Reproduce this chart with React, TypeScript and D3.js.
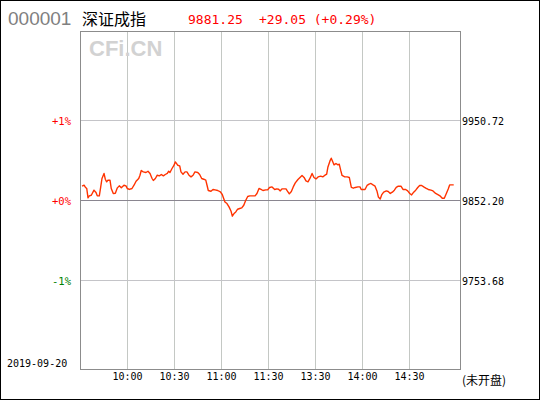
import React from "react";
import * as d3 from "d3";

// ---- data ----
const stockCode = "000001";
const stockName = "深证成指";
const lastPrice = "9881.25";
const changeText = "+29.05 (+0.29%)";
const tradeDate = "2019-09-20";
const statusText = "(未开盘)";
const watermark = "CFi.CN";
const prevClose = 9852.2;

const pctTicks = [1, 0, -1];
const pctTickLabels = ["+1%", "+0%", "-1%"];

const timeTicks = [30, 60, 90, 120, 150, 180, 210];
const timeTickLabels = ["10:00", "10:30", "11:00", "11:30", "13:30", "14:00", "14:30"];

// trading minutes since 09:30 (lunch break removed)
const minutes = [
  1.3, 2.6, 3.4, 4.3, 5.1, 5.9, 7.2, 8.9, 10.2, 11.0, 12.3, 13.2, 14.0, 15.3, 16.1, 17.0, 17.8, 19.1, 19.9, 21.2,
  22.5, 23.8, 25.0, 26.3, 28.0, 29.3, 30.1, 31.4, 33.1, 34.4, 35.7, 37.4, 38.2, 39.0, 40.3, 42.0, 43.3, 44.6, 45.9, 46.7,
  48.0, 49.2, 50.5, 51.8, 53.1, 54.3, 55.6, 56.5, 57.3, 58.6, 59.9, 60.7, 61.3, 62.2, 63.5, 64.3, 65.6, 66.9, 68.1, 69.4,
  70.7, 72.0, 73.2, 75.0, 76.2, 77.5, 78.8, 80.1, 80.9, 81.7, 83.4, 84.7, 86.0, 87.7, 89.4, 90.6, 91.5, 92.3, 93.6, 94.9,
  96.2, 97.0, 98.3, 99.2, 100.4, 101.7, 103.0, 104.3, 105.5, 106.8, 108.1, 109.7, 111.5, 112.7, 114.0, 115.3, 116.5, 118.3, 119.5, 120.7,
  122.3, 124.0, 125.3, 126.5, 127.4, 128.6, 129.9, 131.2, 132.0, 133.3, 134.6, 135.8, 137.1, 138.8, 140.1, 141.4, 142.7, 143.9, 145.2, 146.5,
  147.8, 149.0, 150.3, 151.6, 153.3, 154.6, 155.8, 157.1, 157.9, 159.2, 160.0, 160.9, 161.8, 163.0, 164.3, 165.1, 166.0, 166.9, 168.6, 170.2,
  171.5, 172.8, 174.1, 175.3, 177.0, 178.3, 179.1, 181.5, 182.8, 184.1, 185.3, 186.6, 187.9, 189.1, 190.0, 191.2, 192.1, 193.4, 195.1, 196.3,
  197.6, 198.9, 200.2, 201.4, 202.7, 204.4, 205.7, 207.4, 208.7, 210.0, 211.2, 212.5, 213.8, 215.1, 216.3, 217.6, 218.9, 220.2, 221.8, 223.5,
  224.8, 226.5, 228.2, 229.5, 230.7, 232.0, 233.3, 234.5, 235.4, 236.7, 238.0,
];

// change vs previous close, percent
const changePct = [
  0.179, 0.191, 0.166, 0.15, 0.033, 0.058, 0.066, 0.129, 0.1, 0.058, 0.058, 0.17, 0.275, 0.338, 0.266, 0.233, 0.254, 0.254, 0.15, 0.088,
  0.091, 0.158, 0.183, 0.158, 0.191, 0.183, 0.15, 0.138, 0.15, 0.191, 0.241, 0.275, 0.316, 0.375, 0.358, 0.35, 0.366, 0.338, 0.275, 0.25,
  0.275, 0.316, 0.308, 0.325, 0.308, 0.325, 0.338, 0.366, 0.35, 0.4, 0.441, 0.483, 0.466, 0.441, 0.433, 0.358, 0.329, 0.358, 0.358, 0.316,
  0.295, 0.316, 0.358, 0.35, 0.325, 0.275, 0.266, 0.254, 0.191, 0.125, 0.116, 0.138, 0.133, 0.125, 0.108, 0.075, 0.025, -0.018, -0.038, -0.08,
  -0.134, -0.196, -0.159, -0.143, -0.109, -0.1, -0.093, -0.059, 0.0, 0.05, 0.058, 0.058, 0.058, 0.088, 0.15, 0.138, 0.125, 0.133, 0.133, 0.163,
  0.17, 0.138, 0.145, 0.141, 0.12, 0.145, 0.145, 0.145, 0.12, 0.083, 0.113, 0.17, 0.22, 0.263, 0.288, 0.313, 0.288, 0.245, 0.233, 0.279,
  0.338, 0.288, 0.27, 0.295, 0.304, 0.295, 0.313, 0.329, 0.42, 0.495, 0.529, 0.488, 0.445, 0.463, 0.445, 0.454, 0.379, 0.313, 0.295, 0.295,
  0.288, 0.163, 0.154, 0.163, 0.17, 0.17, 0.138, 0.138, 0.188, 0.204, 0.213, 0.195, 0.179, 0.12, 0.045, 0.02, 0.07, 0.104, 0.12, 0.113,
  0.088, 0.104, 0.129, 0.163, 0.179, 0.179, 0.138, 0.138, 0.12, 0.088, 0.07, 0.104, 0.129, 0.163, 0.188, 0.188, 0.17, 0.154, 0.138, 0.129,
  0.12, 0.088, 0.07, 0.054, 0.029, 0.029, 0.088, 0.145, 0.195, 0.195, 0.195,
];

const W = 540;
const H = 400;
const MONO = "'DejaVu Sans Mono', 'Liberation Mono', monospace";
const CJK = "'Noto Sans CJK SC', sans-serif";

export default function App() {
  const x = d3.scaleLinear().domain([0, 242]).range([80, 460]);
  const y = d3.scaleLinear().domain([-2.1125, 2.1125]).range([369.5, 31.5]);
  const crisp = (v: number) => Math.floor(v) + 0.5;

  const pts = minutes.map((m, i) => [m, changePct[i]] as [number, number]);
  const line = d3
    .line<[number, number]>()
    .x((d) => x(d[0]))
    .y((d) => y(d[1]));

  const x0 = x(0);
  const x1 = x(242);
  const yTop = y(2.1125);
  const yBot = y(-2.1125);

  return (
    <svg
      width={W}
      height={H}
      style={{ position: "fixed", left: 0, top: 0, background: "#fff" }}
    >
      <rect x={0} y={0} width={W} height={H} fill="#fff" />
      <rect x={0.5} y={0.5} width={W - 1} height={H - 1} fill="none" stroke="#000" strokeWidth={1} />

      {/* header */}
      <text x={8} y={25} fontFamily="'Liberation Sans', Arial, sans-serif" fontSize={19} fill="#808080">
        {stockCode}
      </text>
      <text x={82} y={25} fontFamily={CJK} fontSize={16} fill="#000">
        {stockName}
      </text>
      <text x={188} y={24} fontFamily={MONO} fontSize={13} fill="#ff0000">
        {lastPrice}
      </text>
      <text x={259} y={24} fontFamily={MONO} fontSize={13} fill="#ff0000">
        {changeText}
      </text>

      {/* vertical grid */}
      {timeTicks.map((t) => (
        <line
          key={"vg" + t}
          x1={crisp(x(t))}
          x2={crisp(x(t))}
          y1={yTop}
          y2={yBot}
          stroke="#c4c8c4"
          strokeWidth={1}
        />
      ))}
      {/* horizontal grid */}
      {pctTicks.map((p) => (
        <line
          key={"hg" + p}
          x1={x0}
          x2={x1}
          y1={y(p)}
          y2={y(p)}
          stroke={p === 0 ? "#8a8690" : "#c4c4c8"}
          strokeWidth={1}
        />
      ))}
      {/* plot frame */}
      <rect
        x={x0 + 0.5}
        y={yTop}
        width={x1 - x0}
        height={yBot - yTop}
        fill="none"
        stroke="#8c8c8c"
        strokeWidth={1}
      />

      {/* watermark */}
      <text
        x={89}
        y={56}
        fontFamily="'Liberation Sans', Arial, sans-serif"
        fontWeight="bold"
        fontSize={22}
        fill="#d2d2d2"
      >
        {watermark}
      </text>

      {/* left % labels */}
      {pctTicks.map((p, i) => (
        <text
          key={"lp" + p}
          x={71}
          y={y(p) + 4}
          textAnchor="end"
          fontFamily={MONO}
          fontSize={10.5}
          fill={p < 0 ? "#008000" : "#ff0000"}
        >
          {pctTickLabels[i]}
        </text>
      ))}
      {/* right price labels */}
      {pctTicks.map((p) => (
        <text
          key={"rp" + p}
          x={462}
          y={y(p) + 4}
          fontFamily={MONO}
          fontSize={10}
          fill="#000"
        >
          {(prevClose * (1 + p / 100)).toFixed(2)}
        </text>
      ))}

      {/* time labels */}
      {timeTicks.map((t, i) => (
        <text
          key={"tl" + t}
          x={crisp(x(t))}
          y={380}
          textAnchor="middle"
          fontFamily={MONO}
          fontSize={10}
          fill="#000"
        >
          {timeTickLabels[i]}
        </text>
      ))}
      <text x={7} y={367} fontFamily={MONO} fontSize={10} fill="#000">
        {tradeDate}
      </text>
      <text x={462} y={385} fontFamily={CJK} fontSize={12} fill="#000">
        {statusText}
      </text>

      {/* price line */}
      <path d={line(pts) || ""} fill="none" stroke="#ff3300" strokeWidth={1.4} strokeLinejoin="round" />
    </svg>
  );
}
